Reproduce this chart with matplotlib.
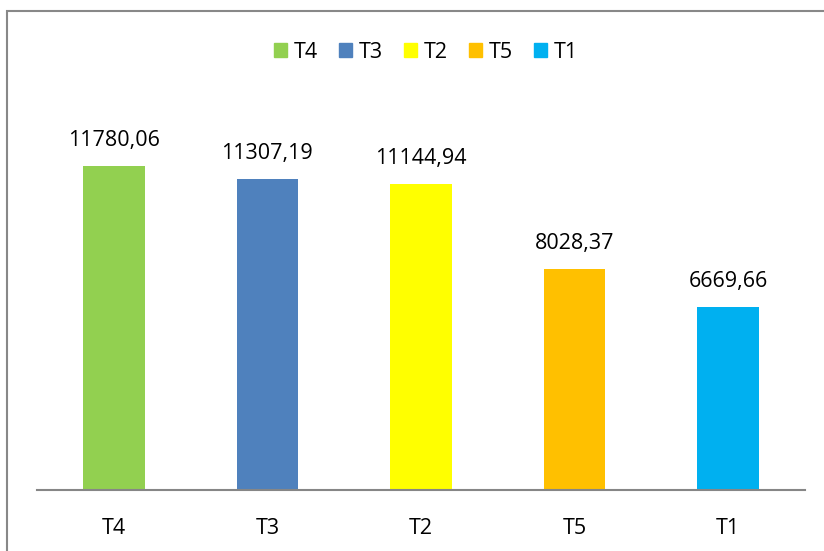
import matplotlib.pyplot as plt
from matplotlib.patches import Rectangle, Patch

categories = ['T4', 'T3', 'T2', 'T5', 'T1']
values = [11780.06, 11307.19, 11144.94, 8028.37, 6669.66]
colors = ['#92D050', '#4F81BD', '#FFFF00', '#FFC000', '#00B0F0']

plt.rcParams['font.family'] = ['Open Sans', 'DejaVu Sans']

fig = plt.figure(figsize=(8.24, 5.51), dpi=100)
ax = fig.add_axes([37/824, 1 - 490/551, 768/824, 385/551])

x = range(len(categories))
bars = ax.bar(x, values, width=0.4, color=colors)
for i, v in enumerate(values):
    ax.text(i, v + 720, '{:.2f}'.format(v).replace('.', ','), ha='center', va='baseline', fontsize=15.5)

ax.set_xlim(-0.5, len(categories) - 0.5)
ax.set_ylim(0, 14000)
ax.set_xticks(list(x))
ax.set_xticklabels(categories, fontsize=15.5)
ax.tick_params(axis='x', length=0, pad=20)
ax.set_yticks([])
for s in ['top', 'right', 'left']:
    ax.spines[s].set_visible(False)
ax.spines['bottom'].set_color('#868686')
ax.spines['bottom'].set_linewidth(1.5)

handles = [Patch(color=c, label=n) for c, n in zip(colors, categories)]
fig.legend(handles=handles, loc='center', bbox_to_anchor=(426/824, 1 - 52/551), ncol=5,
           frameon=False, fontsize=15.5, handlelength=0.6, handleheight=0.6,
           handletextpad=0.3, columnspacing=1.0)

# outer chart border (right/bottom edges fall outside the image)
fig.patches.append(Rectangle((7/824, -0.1), 1.2, 1 - 11/551 + 0.1, transform=fig.transFigure,
                             fill=False, edgecolor='#888888', linewidth=1.5))

fig.savefig('out.png', dpi=100)
